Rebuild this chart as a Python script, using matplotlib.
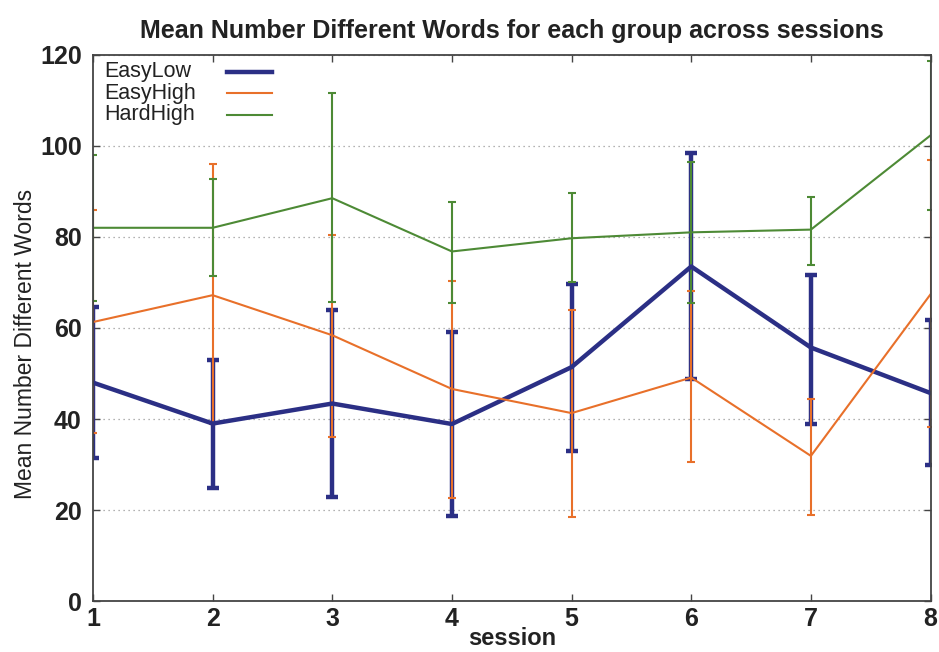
import matplotlib.pyplot as plt
from matplotlib.lines import Line2D

plt.rcParams['font.family'] = ['Liberation Sans', 'DejaVu Sans']

sessions = [1, 2, 3, 4, 5, 6, 7, 8]

easy_low = [48.0, 39.0, 43.4, 38.9, 51.4, 73.5, 55.7, 45.7]
easy_low_lo = [31.4, 24.8, 22.9, 18.6, 33.0, 48.8, 39.0, 29.9]
easy_low_hi = [64.6, 53.0, 64.0, 59.2, 69.6, 98.5, 71.7, 61.7]

easy_high = [61.3, 67.2, 58.4, 46.6, 41.3, 49.1, 31.9, 67.4]
easy_high_lo = [36.9, 38.8, 36.1, 22.7, 18.4, 30.5, 18.9, 38.3]
easy_high_hi = [85.9, 96.0, 80.4, 70.4, 64.0, 68.2, 44.3, 96.8]

hard_high = [82.0, 82.0, 88.5, 76.8, 79.7, 81.0, 81.6, 102.3]
hard_high_lo = [66.0, 71.4, 65.7, 65.4, 70.0, 65.4, 73.9, 86.0]
hard_high_hi = [98.0, 92.7, 111.5, 87.6, 89.7, 96.5, 88.8, 118.6]

groups = [
    ("EasyLow", easy_low, easy_low_lo, easy_low_hi, "#2b2f85", 3.2, 4),
    ("EasyHigh", easy_high, easy_high_lo, easy_high_hi, "#e8702a", 1.5, 3),
    ("HardHigh", hard_high, hard_high_lo, hard_high_hi, "#4d8a35", 1.5, 3),
]

fig = plt.figure(figsize=(9.39, 6.52), dpi=100)
ax = fig.add_axes([0.099, 0.078, 0.892, 0.838])

for name, mean, lo, hi, color, lw, cap in groups:
    yerr = [[m - l for m, l in zip(mean, lo)], [h - m for m, h in zip(mean, hi)]]
    ax.errorbar(sessions, mean, yerr=yerr, color=color, lw=lw, elinewidth=lw,
                capsize=cap, capthick=lw, label=name)

ax.set_xlim(1, 8)
ax.set_ylim(0, 120)
ax.set_xticks(sessions)
ax.set_yticks([0, 20, 40, 60, 80, 100, 120])
ax.yaxis.grid(True, linestyle=(0, (1, 3)), color="#999999", lw=0.9)
ax.tick_params(direction="in", top=True, right=True, length=5, width=1,
               color="#444444", labelsize=18)
ax.tick_params(axis="x", pad=4)
ax.tick_params(axis="y", pad=8)
for lab in ax.get_xticklabels() + ax.get_yticklabels():
    lab.set_fontweight("bold")
    lab.set_color("#222222")
for sp in ax.spines.values():
    sp.set_color("#444444")
    sp.set_linewidth(1.3)

ax.set_title("Mean Number Different Words for each group across sessions",
             fontsize=18, fontweight="bold", color="#222222", pad=12)
ax.set_xlabel("session", fontsize=17, fontweight="bold", color="#222222", labelpad=-3)
ax.set_ylabel("Mean Number Different Words", fontsize=16.5, color="#222222")
ax.yaxis.set_label_coords(-0.067, 0.47)

# gnuplot-style key: label text left aligned, line sample to its right
key_y = [0.969, 0.930, 0.890]
for (name, _, _, _, color, lw, _), ky in zip(groups, key_y):
    ax.text(0.014, ky, name, transform=ax.transAxes, fontsize=15.5,
            color="#222222", va="center", ha="left")
    ax.add_line(Line2D([0.160, 0.214], [ky, ky], transform=ax.transAxes,
                       color=color, lw=lw))

fig.savefig("out.png", dpi=100)
